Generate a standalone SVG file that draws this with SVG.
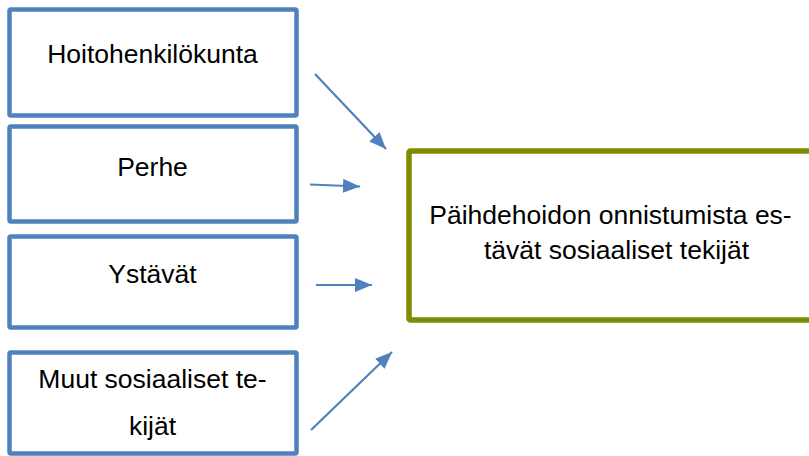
<svg xmlns="http://www.w3.org/2000/svg" width="809" height="456" viewBox="0 0 809 456">
<defs>
<style>
.box{fill:#fff;stroke:#4F81BD;stroke-width:4.5}
.main{fill:#fff;stroke:#7F8B00;stroke-width:5.5}
.t{font-family:"Liberation Sans",Arial,sans-serif;font-size:26.5px;fill:#000;text-anchor:middle}
.c{stroke:#4F81BD;stroke-width:2.2;fill:none;marker-end:url(#ah)}
</style>
<marker id="ah" markerUnits="userSpaceOnUse" markerWidth="18" markerHeight="14" refX="17" refY="7" orient="auto">
<path d="M0,0 L17,7 L0,14 z" fill="#4F81BD"/>
</marker>
</defs>
<rect width="809" height="456" fill="#fff"/>
<g id="n1"><rect class="box" x="9.5" y="9.5" width="287" height="106" rx="1.5"/><text class="t" x="152.5" y="63">Hoitohenkilökunta</text></g>
<g id="n2"><rect class="box" x="9.5" y="126.5" width="287" height="95" rx="1.5"/><text class="t" x="152.5" y="176">Perhe</text></g>
<g id="n3"><rect class="box" x="9.5" y="236.5" width="287" height="91" rx="1.5"/><text class="t" x="152.5" y="283">Ystävät</text></g>
<g id="n4"><rect class="box" x="9.5" y="352.5" width="287" height="101" rx="1.5"/><text class="t" x="152.5" y="388">Muut sosiaaliset te-</text><text class="t" x="152.5" y="435">kijät</text></g>
<g id="n5"><rect class="main" x="409" y="151" width="420" height="169" rx="1.5"/><text class="t" x="610.5" y="224">Päihdehoidon onnistumista es-</text><text class="t" x="616.5" y="259">tävät sosiaaliset tekijät</text></g>
<g id="connectors">
<line class="c" x1="315" y1="74" x2="386" y2="149"/>
<line class="c" x1="310" y1="184.5" x2="360" y2="186.5"/>
<line class="c" x1="316" y1="285" x2="372" y2="285"/>
<line class="c" x1="311" y1="430" x2="392" y2="352"/>
</g>
</svg>
